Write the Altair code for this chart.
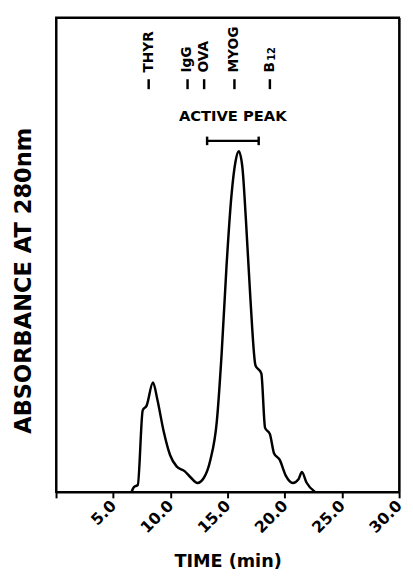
import altair as alt
import pandas as pd

# Chromatogram trace (time in min, absorbance in arbitrary units)
time_min = [6.6, 6.8, 7.15, 7.58, 7.92, 8.48, 8.85, 9.41, 9.97, 10.54, 11.24, 11.8,
            12.37, 12.93, 13.5, 14.06, 14.48, 14.9, 15.33, 15.69, 15.98, 16.3, 16.6,
            17.0, 17.44, 17.95, 18.28, 18.7, 19.07, 19.55, 20.1, 20.7, 21.2, 21.5,
            21.9, 22.65]
absorbance = [0.0, 0.01, 0.015, 0.172, 0.182, 0.231, 0.196, 0.128, 0.078, 0.054, 0.044,
              0.030, 0.019, 0.030, 0.068, 0.149, 0.291, 0.473, 0.622, 0.696, 0.718,
              0.683, 0.575, 0.406, 0.267, 0.250, 0.135, 0.122, 0.081, 0.068, 0.034,
              0.019, 0.027, 0.042, 0.020, 0.0]

# Calibration markers
marker_names = ["THYR", "IgG", "OVA", "MYOG", "B"]
marker_times = [8.1, 11.5, 12.95, 15.6, 18.7]
marker_sub = ["", "", "", "", "12"]
marker_low = 0.849
marker_high = 0.870
marker_text_y = 0.884

# Active peak range
active_label = "ACTIVE PEAK"
active_start = 13.21
active_end = 17.72
active_y = 0.74
active_label_x = 15.45
active_label_y = 0.792

x_ticks = [0, 5, 10, 15, 20, 25, 30]
x_min, x_max = 0, 30
y_min, y_max = 0, 1

FONT = "DejaVu Sans"

trace = pd.DataFrame({"t": time_min, "a": absorbance})
markers = pd.DataFrame({"name": marker_names, "sub": marker_sub, "t": marker_times,
                        "lo": [marker_low] * len(marker_names),
                        "hi": [marker_high] * len(marker_names),
                        "ty": [marker_text_y] * len(marker_names)})
bar = pd.DataFrame({"t1": [active_start], "t2": [active_end], "y": [active_y]})
caps = pd.DataFrame({"t": [active_start, active_end],
                     "lo": [active_y - 0.009] * 2, "hi": [active_y + 0.009] * 2})
lab = pd.DataFrame({"t": [active_label_x], "y": [active_label_y], "text": [active_label]})
frame = pd.DataFrame({"x": [x_min, x_max], "y": [y_min, y_max]})

xscale = alt.Scale(domain=[x_min, x_max], nice=False, zero=False)
yscale = alt.Scale(domain=[y_min, y_max], nice=False)

xaxis = alt.Axis(
    values=x_ticks,
    labelExpr="datum.value == 0 ? '' : format(datum.value, '.1f')",
    labelAngle=-45, labelAlign="right", labelBaseline="middle",
    labelFont=FONT, labelFontWeight="bold", labelFontSize=16, labelColor="black",
    labelPadding=5,
    tickSize=6, tickWidth=2, tickColor="black",
    domainColor="black", domainWidth=2, grid=False,
    title="TIME (min)", titleFont=FONT, titleFontWeight="bold", titleFontSize=18,
    titleColor="black", titleBaseline="alphabetic", titleY=76,
)
yaxis = alt.Axis(
    labels=False, ticks=False, grid=False, domainColor="black", domainWidth=2,
    title="ABSORBANCE AT 280nm", titleFont=FONT, titleFontWeight="bold",
    titleFontSize=23, titleColor="black", titleAngle=270, titleAlign="center",
    titleBaseline="middle", titleX=-33, titleY=268,
)
top_axis = alt.Axis(orient="top", labels=False, ticks=False, grid=False, title=None,
                    domainColor="black", domainWidth=2)
right_axis = alt.Axis(orient="right", labels=False, ticks=False, grid=False, title=None,
                      domainColor="black", domainWidth=2)

line = alt.Chart(trace).mark_line(color="black", strokeWidth=2.5, interpolate="monotone").encode(
    x=alt.X("t:Q", scale=xscale, axis=xaxis),
    y=alt.Y("a:Q", scale=yscale, axis=yaxis),
)

# invisible layer that only carries the top and right frame axes
frame_layer = alt.Chart(frame).mark_point(opacity=0).encode(
    x=alt.X("x:Q", scale=xscale, axis=top_axis),
    y=alt.Y("y:Q", scale=yscale, axis=right_axis),
)

mrules = alt.Chart(markers).mark_rule(color="black", strokeWidth=2.5).encode(
    x=alt.X("t:Q", axis=None), y=alt.Y("lo:Q", axis=None), y2="hi:Q")

mtext = alt.Chart(markers).mark_text(
    angle=270, align="left", baseline="middle", font=FONT, fontWeight="bold",
    fontSize=14, color="black").encode(
    x=alt.X("t:Q", axis=None), y=alt.Y("ty:Q", axis=None), text="name:N")

msub = alt.Chart(markers).mark_text(
    angle=270, align="left", baseline="middle", font=FONT, fontWeight="bold",
    fontSize=10, color="black", dx=12, dy=2).encode(
    x=alt.X("t:Q", axis=None), y=alt.Y("ty:Q", axis=None), text="sub:N")

brule = alt.Chart(bar).mark_rule(color="black", strokeWidth=2.5).encode(
    x=alt.X("t1:Q", axis=None), x2="t2:Q", y=alt.Y("y:Q", axis=None))
crule = alt.Chart(caps).mark_rule(color="black", strokeWidth=2.5).encode(
    x=alt.X("t:Q", axis=None), y=alt.Y("lo:Q", axis=None), y2="hi:Q")

ltext = alt.Chart(lab).mark_text(
    align="center", baseline="middle", font=FONT, fontWeight="bold",
    fontSize=15, color="black").encode(
    x=alt.X("t:Q", axis=None), y=alt.Y("y:Q", axis=None), text="text:N")

chart = alt.layer(line, frame_layer, mrules, mtext, msub, brule, crule, ltext).resolve_axis(
    x="independent", y="independent"
).properties(
    width=350, height=484,
    background="white",
    autosize=alt.AutoSizeParams(type="none"),
    padding={"left": 49, "top": 4, "right": 6, "bottom": 80},
).configure_view(stroke="black", strokeWidth=2)

chart.save("out.html", embed_options={"renderer": "svg", "actions": False})
